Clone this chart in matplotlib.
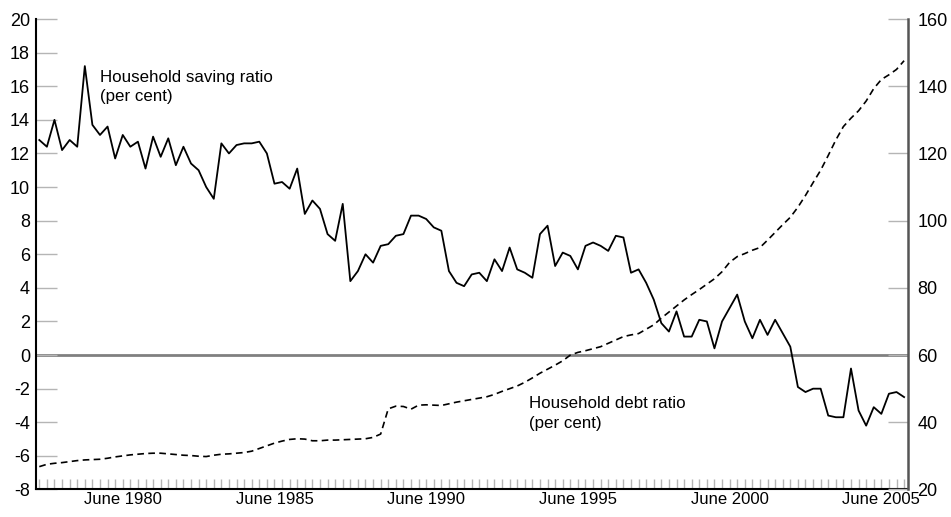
import matplotlib
matplotlib.use("Agg")
import matplotlib.pyplot as plt
import numpy as np
import pandas as pd

plt.rcParams["font.family"] = ["Liberation Sans Narrow", "Liberation Sans", "DejaVu Sans"]

# quarterly observations, Sep 1977 .. Mar 2006
quarters = pd.period_range("1977Q3", "2006Q1", freq="Q")

saving_ratio = [
    12.8, 12.4, 14.0, 12.2, 12.8, 12.4, 17.2, 13.7, 13.1, 13.6,
    11.7, 13.1, 12.4, 12.7, 11.1, 13.0, 11.8, 12.9, 11.3, 12.4,
    11.4, 11.0, 10.0, 9.3, 12.6, 12.0, 12.5, 12.6, 12.6, 12.7,
    12.0, 10.2, 10.3, 9.9, 11.1, 8.4, 9.2, 8.7, 7.2, 6.8,
    9.0, 4.4, 5.0, 6.0, 5.5, 6.5, 6.6, 7.1, 7.2, 8.3,
    8.3, 8.1, 7.6, 7.4, 5.0, 4.3, 4.1, 4.8, 4.9, 4.4,
    5.7, 5.0, 6.4, 5.1, 4.9, 4.6, 7.2, 7.7, 5.3, 6.1,
    5.9, 5.1, 6.5, 6.7, 6.5, 6.2, 7.1, 7.0, 4.9, 5.1,
    4.3, 3.3, 1.9, 1.4, 2.6, 1.1, 1.1, 2.1, 2.0, 0.4,
    2.0, 2.8, 3.6, 2.0, 1.0, 2.1, 1.2, 2.1, 1.3, 0.5,
    -1.9, -2.2, -2.0, -2.0, -3.6, -3.7, -3.7, -0.8, -3.3, -4.2,
    -3.1, -3.5, -2.3, -2.2, -2.5,
]

debt_ratio = [
    26.8, 27.5, 27.8, 28.0, 28.3, 28.6, 28.8, 28.9, 29.0, 29.3,
    29.7, 30.0, 30.3, 30.5, 30.7, 30.8, 30.8, 30.6, 30.4, 30.2,
    30.1, 29.9, 29.8, 30.2, 30.5, 30.6, 30.8, 31.0, 31.4, 32.2,
    33.0, 33.8, 34.4, 34.9, 35.1, 35.0, 34.5, 34.5, 34.7, 34.7,
    34.8, 34.9, 35.0, 35.1, 35.5, 36.5, 44.0, 44.8, 44.7, 43.9,
    45.1, 45.2, 45.1, 45.0, 45.5, 46.0, 46.4, 46.8, 47.2, 47.6,
    48.3, 49.2, 50.0, 50.8, 51.9, 53.2, 54.6, 55.8, 57.0, 58.3,
    60.0, 60.8, 61.3, 61.9, 62.5, 63.5, 64.5, 65.5, 66.0, 66.4,
    67.7, 69.0, 71.0, 72.8, 74.6, 76.4, 78.0, 79.5, 81.1, 82.7,
    84.8, 87.6, 89.3, 90.2, 91.2, 92.0, 94.2, 96.5, 98.8, 101.0,
    104.0, 107.5, 111.3, 115.0, 119.4, 124.0, 128.0, 130.5, 132.7, 135.6,
    139.3, 142.0, 143.4, 145.0, 147.6,
]

label_years = [1980, 1985, 1990, 1995, 2000, 2005]
left_ticks = list(range(-8, 21, 2))
right_ticks = list(range(20, 161, 20))

# quarter end as decimal year (June 1980 -> 1980.5)
x = np.array([q.year + q.quarter / 4 for q in quarters])

fig = plt.figure(figsize=(9.51, 5.17), dpi=100)
ax = fig.add_axes([0.0375, 0.0532, 0.9170, 0.9100])
ax2 = ax.twinx()

tick_grey = "#b5b5b5"

ax.axhline(0, color="#808080", lw=2.0, zorder=1)
ax.plot(x, saving_ratio, color="black", lw=1.3, zorder=3)
ax2.plot(x, debt_ratio, color="black", lw=1.2, ls=(0, (4, 2.6)), zorder=3)

ax.set_xlim(1977.63, 2006.37)
ax.set_ylim(-8, 20)
ax2.set_ylim(20, 160)

ax.set_yticks(left_ticks)
ax.set_yticklabels([str(v) for v in left_ticks])
ax2.set_yticks(right_ticks)
ax2.set_yticklabels([str(v) for v in right_ticks])

ax.set_xticks([y + 0.5 for y in label_years])
ax.set_xticklabels([f"June {y}" for y in label_years])
ax.set_xticks(x, minor=True)

ax.tick_params(axis="y", direction="in", length=15, width=1, color=tick_grey,
               labelsize=13, pad=4)
ax2.tick_params(axis="y", direction="in", length=14.5, width=1, color=tick_grey,
                labelsize=13, pad=7)
ax.tick_params(axis="x", which="both", direction="in", length=7.5, width=1,
               color=tick_grey, labelsize=12, pad=1.5)

for a in (ax, ax2):
    a.spines["top"].set_visible(False)
ax.spines["left"].set_linewidth(1.5)
ax.spines["bottom"].set_linewidth(1.5)
ax.spines["right"].set_visible(False)
ax2.spines["left"].set_visible(False)
ax2.spines["bottom"].set_visible(False)
ax2.spines["right"].set_linewidth(1.8)
ax2.spines["right"].set_color("#555555")

ax.text(1979.76, 15.95, "Household saving ratio\n(per cent)", fontsize=12.2,
        va="center", ha="left", linespacing=1.4)
ax.text(1993.88, -3.48, "Household debt ratio\n(per cent)", fontsize=12.2,
        va="center", ha="left", linespacing=1.4)

fig.savefig("out.png", dpi=100)
